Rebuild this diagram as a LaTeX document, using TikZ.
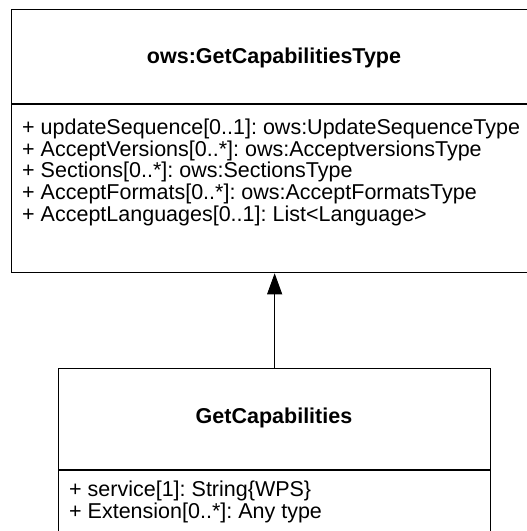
\documentclass[tikz,border=0pt]{standalone}
\usepackage{fontspec}
\setmainfont{Liberation Sans}
\usetikzlibrary{arrows.meta}
\frenchspacing
\begin{document}
\begin{tikzpicture}[x=1pt,y=-1pt,
  umlbox/.style={draw=black,line width=1.3pt,rectangle,inner sep=0pt,anchor=north west},
  ttl/.style={font=\fontsize{21.5}{24}\selectfont\bfseries,anchor=base,inner sep=0pt},
  attr/.style={font=\fontsize{21.5}{24}\selectfont,anchor=base west,inner sep=0pt},
  divider/.style={line width=1.3pt},
  gen/.style={line width=1pt,-{Triangle[length=21pt,width=15pt]}}]
\useasboundingbox (0,0) rectangle (527,531);
\fill[white] (0,0) rectangle (527,531);
\clip (0,0) rectangle (527,531);
% super class
\node[umlbox,minimum width=526pt,minimum height=263pt] (super) at (11,9) {};
\coordinate (sdl) at (11,104);
\coordinate (sdr) at (537,104);
\draw[divider] (sdl) -- (sdr);
\node[ttl] (stitle) at (274,63.7) {ows:GetCapabilitiesType};
\node[attr] (a1) at (22,134.5) {+ updateSequence[0..1]: ows:UpdateSequenceType};
\node[attr] (a2) at (22,156.2) {+ AcceptVersions[0..*]: ows:AcceptversionsType};
\node[attr] (a3) at (22,177.9) {+ Sections[0..*]: ows:SectionsType};
\node[attr] (a4) at (22,199.6) {+ AcceptFormats[0..*]: ows:AcceptFormatsType};
\node[attr] (a5) at (22,221.3) {+ AcceptLanguages[0..1]: List<Language>};
% sub class
\node[umlbox,minimum width=432pt,minimum height=240pt] (sub) at (58,368) {};
\coordinate (bdl) at (58,470);
\coordinate (bdr) at (490,470);
\draw[divider] (bdl) -- (bdr);
\node[ttl] (btitle) at (274,423.7) {GetCapabilities};
\node[attr] (b1) at (69,496.5) {+ service[1]: String\{WPS\}};
\node[attr] (b2) at (69,518.2) {+ Extension[0..*]: Any type};
% generalization
\draw[gen] (sub.north) -- (super.south);
\end{tikzpicture}
\end{document}
